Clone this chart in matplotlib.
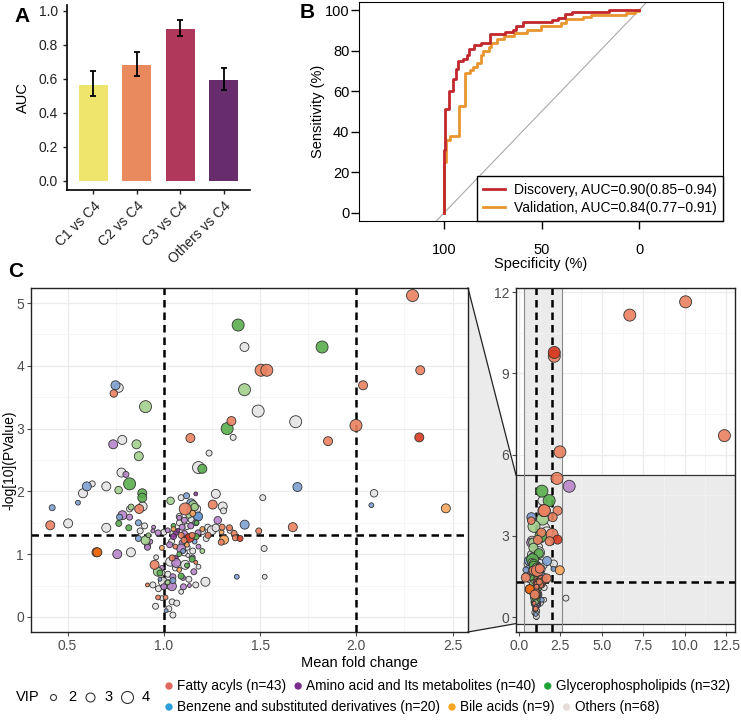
import matplotlib.pyplot as plt
import matplotlib.patches as mpatches
from matplotlib.lines import Line2D
from matplotlib.colors import to_rgba

plt.rcParams['font.family'] = ['Liberation Sans', 'DejaVu Sans']

# ---- panel A: AUC per comparison
groups = ['C1 vs C4', 'C2 vs C4', 'C3 vs C4', 'Others vs C4']
auc = [0.565, 0.685, 0.895, 0.595]
auc_lo = [0.50, 0.62, 0.855, 0.535]
auc_hi = [0.645, 0.76, 0.945, 0.665]
bar_colors = ['#EFE46C', '#E8895E', '#B0385A', '#672C6C']

# ---- panel B: ROC curves (specificity %, sensitivity %)
disc_spec = [100, 100, 99.5, 97.4, 95.3, 94, 92.6, 90.5, 88.4, 87.1, 84.5, 81, 76.7,
             69, 64.7, 62.9, 59.5, 44.8, 41.4, 38, 34.5, 15.5, 0]
disc_sens = [0, 31, 51, 60, 66, 71, 75, 76, 78, 81, 83, 84, 88,
             89, 90, 92, 94, 95, 96, 98, 99, 100, 100]
val_spec = [100, 100, 98.8, 97.1, 92.2, 89.3, 86.7, 85, 83.3, 81.2, 79.8, 77.2, 76,
            72.9, 69.5, 64.3, 57.4, 50.5, 40.2, 37.6, 29, 24.7, 6.6, 2.2, 0]
val_sens = [0, 25, 36, 37.7, 52.5, 69, 70.5, 72, 74, 78, 80, 82, 84,
            86, 87, 88.5, 90, 92, 93.4, 95.4, 96.7, 97.5, 98.4, 99.7, 100]
roc_labels = ['Discovery, AUC=0.90(0.85\u22120.94)', 'Validation, AUC=0.84(0.77\u22120.91)']

# ---- panel C: volcano, (fold change, -log10 p, VIP, tone)
fatty = [(2.292, 5.12, 4, 0), (1.505, 3.93, 4, 0), (1.535, 3.93, 4, 0), (2.332, 3.93, 3, 0),
         (0.740, 3.56, 2.5, 0), (2.035, 3.69, 3, 0), (1.351, 3.12, 3, 0), (1.998, 3.05, 4, 0),
         (1.138, 2.85, 3, 0), (2.327, 2.86, 3, 1), (1.853, 2.80, 3, 0), (0.41, 1.46, 3, 0),
         (0.872, 1.72, 3, 0), (0.650, 1.03, 3, 2), (0.655, 1.03, 3, 2), (1.111, 1.72, 4, 0),
         (1.09, 1.30, 2, 0), (1.133, 1.26, 3, 1), (1.147, 1.30, 2, 0), (1.166, 0.87, 1.3, 0),
         (1.043, 0.94, 2, 0), (0.952, 0.83, 3, 0), (0.915, 0.51, 1.3, 0), (0.97, 0.31, 1.6, 0),
         (1.009, 0.31, 1.6, 0), (1.254, 1.79, 3, 0), (1.303, 1.43, 2, 0), (1.341, 1.42, 2, 0),
         (1.365, 1.33, 2, 0), (1.372, 1.26, 2, 0), (1.396, 1.25, 2, 1), (1.298, 1.19, 2, 0),
         (1.493, 1.37, 2, 0), (1.670, 1.43, 3, 0), (1.105, 1.22, 2, 0), (1.23, 1.30, 2, 0),
         (1.06, 1.12, 1.6, 0),
         (2.47, 6.1, 4, 0), (2.13, 9.63, 4, 0), (2.13, 9.77, 4, 1), (6.69, 11.15, 4, 0),
         (10.06, 11.64, 4, 0), (12.4, 6.7, 4, 0)]
amino = [(0.737, 2.75, 3, 0), (0.803, 2.27, 2, 0), (1.166, 1.96, 1.3, 1), (0.785, 1.62, 3, 0),
         (0.822, 1.59, 2, 0), (0.915, 1.14, 2, 0), (0.915, 1.11, 2, 0), (0.947, 1.43, 1.3, 0),
         (0.943, 1.37, 1.3, 0), (0.97, 1.34, 2, 0), (0.758, 1.00, 3, 0), (1.107, 1.54, 2, 0),
         (1.095, 1.43, 2, 0), (1.064, 1.35, 2, 1), (1.107, 1.33, 2, 0), (1.073, 1.38, 1.3, 1),
         (1.178, 1.34, 2, 0), (1.095, 1.18, 2, 0), (1.09, 1.09, 3, 0), (1.06, 0.93, 2, 1),
         (1.064, 0.86, 3, 0), (1.156, 0.72, 2, 0), (1.047, 0.64, 2, 0), (1.042, 0.49, 3, 0),
         (1.0, 0.48, 2, 0), (1.102, 0.48, 2, 0), (1.133, 0.50, 1.3, 0), (1.28, 1.54, 2.5, 0),
         (3.03, 4.83, 4, 0), (1.12, 1.25, 2, 1), (1.14, 1.45, 2, 0), (1.08, 1.58, 1.6, 0),
         (0.99, 0.78, 1.6, 0), (1.03, 1.15, 2, 0), (1.18, 1.12, 1.6, 0), (0.93, 1.20, 1.6, 0),
         (1.02, 1.38, 1.6, 0), (1.15, 0.95, 1.6, 0), (1.10, 0.62, 1.6, 0), (1.05, 1.28, 2, 1)]
glyc = [(1.386, 4.65, 4, 1), (1.822, 4.30, 4, 1), (1.419, 3.62, 4, 0), (0.905, 3.35, 4, 0),
        (1.329, 3.00, 4, 1), (0.858, 2.75, 3, 0), (0.870, 2.56, 3, 0), (1.20, 2.36, 3, 1),
        (0.822, 2.12, 4, 1), (0.765, 2.02, 2.5, 0), (0.888, 1.97, 3, 1), (0.888, 1.90, 3, 1),
        (1.035, 1.85, 2.5, 0), (1.151, 1.78, 3, 0), (0.766, 1.49, 2, 1), (0.818, 1.42, 2, 1),
        (0.905, 1.22, 3, 0), (1.168, 1.28, 2, 1), (1.147, 0.92, 2, 1), (0.969, 0.72, 3, 0),
        (1.09, 0.65, 2, 1), (1.13, 1.62, 2, 0), (1.16, 1.75, 2.5, 0), (0.98, 0.70, 2, 1),
        (1.05, 1.45, 1.6, 1), (1.20, 1.05, 1.6, 0), (1.12, 0.82, 1.6, 1), (0.83, 1.75, 2, 0),
        (1.02, 0.55, 1.6, 0), (1.17, 1.50, 1.6, 1), (0.92, 1.30, 1.6, 0), (1.08, 1.00, 1.6, 1)]
benz = [(0.749, 3.69, 3, 0), (0.600, 2.08, 3, 0), (1.694, 2.07, 3, 0), (0.554, 1.82, 1.6, 0),
        (1.118, 1.93, 2, 0), (2.078, 1.78, 1.6, 0), (0.420, 1.74, 2, 0), (1.142, 1.81, 3, 0),
        (1.178, 1.60, 3, 1), (1.166, 1.50, 2, 0), (0.77, 1.59, 2, 0), (0.868, 1.50, 2, 0),
        (0.868, 1.25, 2, 0), (1.047, 0.58, 2, 0), (1.012, 0.10, 1.3, 0), (1.42, 1.47, 3, 0),
        (1.379, 0.64, 1.6, 0), (1.10, 1.05, 1.6, 0), (1.16, 1.20, 1.6, 0), (0.98, 0.60, 1.3, 0)]
bile = [(2.465, 1.73, 3, 0), (1.313, 1.23, 3, 0), (1.15, 1.65, 2, 0), (1.05, 1.40, 1.6, 0),
        (1.20, 1.40, 1.6, 0), (1.08, 0.75, 1.6, 0), (1.30, 1.35, 1.6, 0), (0.99, 1.10, 1.6, 0),
        (1.12, 1.15, 1.6, 0)]
others = [(1.419, 4.30, 3, 0), (0.766, 3.65, 3, 0), (1.49, 3.28, 4, 0), (1.685, 3.11, 4, 0),
          (1.36, 2.86, 2, 0), (0.784, 2.82, 3, 0), (1.235, 2.61, 2, 0), (1.18, 2.38, 4, 0),
          (0.780, 2.30, 3, 0), (0.628, 2.12, 2, 0), (0.701, 2.08, 3, 0), (0.580, 1.97, 3, 0),
          (1.27, 1.96, 3, 0), (1.514, 1.90, 2, 0), (2.092, 1.97, 2.5, 0), (0.503, 1.49, 3, 0),
          (0.701, 1.42, 3, 0), (0.890, 1.76, 3, 0), (0.822, 1.72, 2, 0), (0.877, 1.37, 2, 0),
          (0.829, 1.03, 3, 0), (1.168, 1.72, 3, 0), (1.081, 1.50, 2, 0), (1.142, 1.55, 2, 0),
          (1.047, 1.33, 2, 0), (1.121, 1.11, 2, 0), (1.107, 1.02, 2, 0), (1.125, 0.98, 1.3, 0),
          (1.033, 0.88, 3, 0), (1.111, 0.83, 3, 0), (0.991, 0.70, 2, 0), (1.021, 0.68, 2, 0),
          (0.995, 0.56, 3, 0), (1.024, 0.52, 3, 0), (1.166, 0.51, 2, 0), (1.216, 0.56, 3, 0),
          (0.943, 0.51, 2, 0), (0.972, 0.45, 2, 0), (1.043, 0.24, 2, 0), (1.067, 0.22, 2, 0),
          (0.957, 0.17, 2, 0), (1.026, 0.13, 2, 0), (1.047, 0.03, 2, 0), (1.306, 1.76, 3, 0),
          (1.31, 1.69, 2, 0), (1.228, 1.43, 2, 0), (1.249, 1.38, 3, 0), (1.344, 1.38, 2, 0),
          (1.521, 1.09, 2, 0), (1.524, 0.64, 1.6, 0), (2.83, 0.70, 2, 0),
          (1.14, 1.70, 2.5, 0), (1.20, 1.36, 2, 0), (1.27, 1.42, 2.5, 0), (1.08, 1.60, 2, 0),
          (1.12, 1.44, 2, 0), (1.00, 1.35, 2, 0), (1.06, 0.78, 2, 0), (1.13, 0.60, 2, 0),
          (0.96, 0.95, 1.6, 0), (1.18, 0.80, 1.6, 0), (1.09, 0.40, 1.6, 0), (0.99, 0.30, 1.6, 0),
          (1.15, 1.05, 2, 0), (1.04, 1.20, 2, 0), (1.22, 1.25, 2, 0), (0.90, 1.45, 2, 0),
          (1.09, 1.90, 2, 0)]

class_names = ['Fatty acyls', 'Amino acid and Its metabolites', 'Glycerophospholipids',
               'Benzene and substituted derivatives', 'Bile acids', 'Others']
class_n = [43, 40, 32, 20, 9, 68]
legend_colors = ['#E0685F', '#7B2D8E', '#22A33A', '#2A9FDB', '#F5A623', '#E6DDD9']
tone_colors = {'Fatty acyls': ['#EA8160', '#D8391F', '#EE6A12'],
               'Amino acid and Its metabolites': ['#B784CA', '#8B3C9E'],
               'Glycerophospholipids': ['#A3D08D', '#5AAE4E'],
               'Benzene and substituted derivatives': ['#7FA1D3', '#5B8ED0'],
               'Bile acids': ['#F9A55B'],
               'Others': ['#E4E4E4']}
vip_legend = [2, 3, 4]
p_cut = 1.30
fc_cuts = [1, 2]

W, H = 741, 722
fig = plt.figure(figsize=(W / 100, H / 100), dpi=100)


def box(l, t, r, b):
    return [l / W, 1 - b / H, (r - l) / W, (b - t) / H]


def msize(v):
    return (2.16 * v) ** 2


# ---------------- A
axA = fig.add_axes(box(67, 5, 250, 190))
xs = range(len(groups))
axA.bar(xs, auc, width=0.66, color=bar_colors, edgecolor='none')
axA.errorbar(xs, auc, yerr=[[a - l for a, l in zip(auc, auc_lo)], [h - a for a, h in zip(auc, auc_hi)]],
             fmt='none', ecolor='black', elinewidth=1.3, capsize=2.5, capthick=1.3)
axA.set_xlim(-0.6, 3.6)
axA.set_ylim(-0.053, 1.035)
axA.set_yticks([0, 0.2, 0.4, 0.6, 0.8, 1.0])
axA.set_yticklabels(['0.0', '0.2', '0.4', '0.6', '0.8', '1.0'])
axA.set_xticks(list(xs))
axA.set_xticklabels(groups, rotation=45, ha='right', rotation_mode='anchor')
axA.tick_params(labelsize=10, colors='#222222', length=3, width=1)
axA.spines[['top', 'right']].set_visible(False)
axA.spines[['left', 'bottom']].set_linewidth(1.2)
axA.set_ylabel('AUC', fontsize=10.5, labelpad=6)

# ---------------- B
axB = fig.add_axes(box(359, 2, 723, 221))
axB.axline((100, 0), (0, 100), color='#AAAAAA', lw=0.8, zorder=1)
axB.plot(val_spec, val_sens, drawstyle='steps-post', color='#E8952F', lw=2, zorder=2)
axB.plot(disc_spec, disc_sens, drawstyle='steps-post', color='#C1272D', lw=2, zorder=3)
axB.set_xlim(143.6, -43)
axB.set_ylim(-4, 104)
axB.set_xticks([100, 50, 0])
axB.set_yticks([0, 20, 40, 60, 80, 100])
axB.tick_params(axis='y', labelsize=10.5, length=6, width=1, pad=1)
axB.tick_params(axis='x', labelsize=10.5, length=6, width=1, pad=10)
axB.set_xlabel('Specificity (%)', fontsize=10.5, labelpad=0)
axB.set_ylabel('Sensitivity (%)', fontsize=10.5, labelpad=0)
handles = [Line2D([], [], color='#C1272D', lw=2), Line2D([], [], color='#E8952F', lw=2)]
leg = axB.legend(handles, roc_labels, loc='lower right', fontsize=10, frameon=True, fancybox=False,
                 edgecolor='black', framealpha=1, borderaxespad=0, handlelength=1.6,
                 handletextpad=0.65, borderpad=0.45, labelspacing=0.3)
leg.get_frame().set_linewidth(1)

# ---------------- C
axL = fig.add_axes(box(31, 288, 468, 632))
axR = fig.add_axes(box(516, 288, 735, 632))
xl_lo, xl_hi, yl_lo, yl_hi = 0.31, 2.58, -0.24, 5.24
axL.set_xlim(xl_lo, xl_hi)
axL.set_ylim(yl_lo, yl_hi)
axR.set_xlim(-0.18, 13.04)
axR.set_ylim(-0.55, 12.15)

axL.set_xticks([0.5, 1.0, 1.5, 2.0, 2.5])
axL.set_xticks([0.75, 1.25, 1.75, 2.25], minor=True)
axL.set_yticks([0, 1, 2, 3, 4, 5])
axL.set_yticks([0.5, 1.5, 2.5, 3.5, 4.5], minor=True)
axR.set_xticks([0, 2.5, 5, 7.5, 10, 12.5])
axR.set_xticklabels(['0.0', '2.5', '5.0', '7.5', '10.0', '12.5'])
axR.set_xticks([1.25, 3.75, 6.25, 8.75, 11.25], minor=True)
axR.set_yticks([0, 3, 6, 9, 12])
axR.set_yticks([1.5, 4.5, 7.5, 10.5], minor=True)

for ax in (axL, axR):
    ax.grid(True, which='major', color='#EBEBEB', lw=0.9, zorder=0)
    ax.grid(True, which='minor', color='#F3F3F3', lw=0.5, zorder=0)
    ax.set_axisbelow(True)
    ax.tick_params(which='major', labelsize=10, colors='#4D4D4D', length=3, width=0.8, pad=2)
    ax.tick_params(which='minor', length=0)
    for s in ax.spines.values():
        s.set_color('#222222')
        s.set_linewidth(1)

# zoom shading in the right panel
axR.add_patch(mpatches.Rectangle((-0.18, yl_lo), 13.22, yl_hi - yl_lo, fc='#EBEBEB', ec='none', zorder=0.5))
axR.add_patch(mpatches.Rectangle((xl_lo, -0.55), xl_hi - xl_lo, 12.7, fc='#EBEBEB', ec='none', zorder=0.5))
axR.axhline(yl_hi, color='#333333', lw=0.9, zorder=0.6)
axR.axhline(yl_lo, color='#333333', lw=0.9, zorder=0.6)
axR.axvline(xl_lo, color='#888888', lw=0.8, zorder=0.6)
axR.axvline(xl_hi, color='#888888', lw=0.8, zorder=0.6)

for ax in (axL, axR):
    for v in fc_cuts:
        ax.axvline(v, color='black', lw=1.8, ls=(0, (3, 2)), zorder=1)
    ax.axhline(p_cut, color='black', lw=1.8, ls=(0, (3, 2)), zorder=1)

draw_order = ['Others', 'Amino acid and Its metabolites', 'Benzene and substituted derivatives',
              'Glycerophospholipids', 'Bile acids', 'Fatty acyls']
class_data = {'Fatty acyls': fatty, 'Amino acid and Its metabolites': amino,
              'Glycerophospholipids': glyc, 'Benzene and substituted derivatives': benz,
              'Bile acids': bile, 'Others': others}
for name in draw_order:
    pts = class_data[name]
    fx = [p[0] for p in pts]
    fy = [p[1] for p in pts]
    sz = [msize(p[2]) for p in pts]
    fc = [to_rgba(tone_colors[name][p[3]], 0.9) for p in pts]
    for ax in (axL, axR):
        ax.scatter(fx, fy, s=sz, c=fc, edgecolors='#333333', linewidths=0.6, zorder=3, clip_on=True)

axL.set_ylabel('-log[10](PValue)', fontsize=10)
axL.yaxis.set_label_coords(-0.033, 0.5)
fig.text(359 / W, 1 - 663 / H, 'Mean fold change', fontsize=10.5, ha='center', va='center')

# connector between left panel and zoomed area
inv = fig.transFigure.inverted()
p1 = inv.transform(axL.transAxes.transform((1, 1)))
p2 = inv.transform(axL.transAxes.transform((1, 0)))
p3 = inv.transform(axR.transData.transform((-0.18, yl_lo)))
p4 = inv.transform(axR.transData.transform((-0.18, yl_hi)))
fig.add_artist(mpatches.Polygon([p1, p4, p3, p2], closed=True, fc='#EBEBEB', ec='none',
                                transform=fig.transFigure, zorder=0))
fig.add_artist(Line2D([p1[0], p4[0]], [p1[1], p4[1]], color='#222222', lw=0.9, transform=fig.transFigure))
fig.add_artist(Line2D([p2[0], p3[0]], [p2[1], p3[1]], color='#222222', lw=0.9, transform=fig.transFigure))

# bottom legend (laid out in pixel units)
lax = fig.add_axes([0, 0, 1, 90 / H])
lax.set_xlim(0, W)
lax.set_ylim(H, H - 90)
lax.axis('off')
lax.text(16, 697, 'VIP', fontsize=10.5, va='center', ha='left')
for v, cx in zip(vip_legend, [53, 90, 127]):
    lax.scatter([cx], [697], s=msize(v), facecolors='white', edgecolors='#333333', linewidths=0.8)
    lax.text(cx + 19, 697, str(v), fontsize=10.5, va='center', ha='center')

renderer = fig.canvas.get_renderer()
rows = [(class_names[:3], class_n[:3], legend_colors[:3], 686),
        (class_names[3:], class_n[3:], legend_colors[3:], 707)]
for names, ns, cols, cy in rows:
    cx = 169
    for name, n, col in zip(names, ns, cols):
        lax.scatter([cx], [cy], s=28, color=col, edgecolors='none')
        t = lax.text(cx + 8, cy, f'{name} (n={n})', fontsize=9.8, va='center', ha='left')
        wpx = t.get_window_extent(renderer).width
        cx = cx + 8 + wpx + 12

fig.text(14 / W, 1 - 17 / H, 'A', fontsize=15, fontweight='bold', va='center')
fig.text(300 / W, 1 - 12 / H, 'B', fontsize=15, fontweight='bold', va='center')
fig.text(8 / W, 1 - 272 / H, 'C', fontsize=15, fontweight='bold', va='center')

fig.savefig('out.png', dpi=100)
